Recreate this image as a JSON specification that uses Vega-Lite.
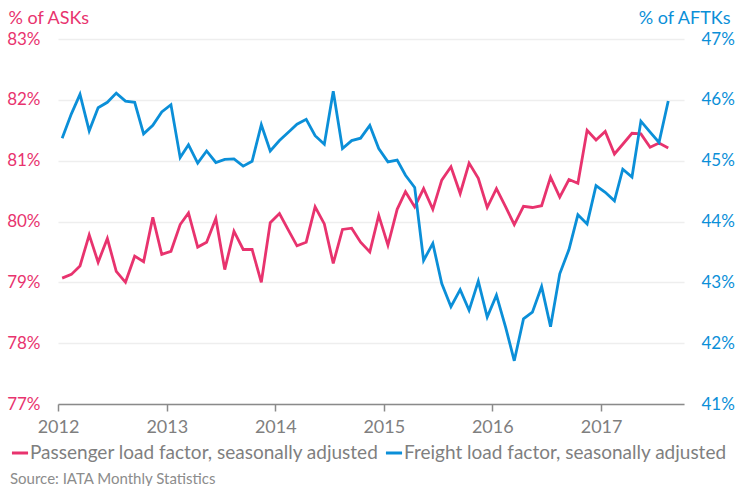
{
  "$schema": "https://vega.github.io/schema/vega-lite/v6.json",
  "width": 626,
  "height": 365,
  "autosize": "none",
  "padding": {"left": 58, "top": 39, "right": 54, "bottom": 82},
  "background": "white",
  "config": {
    "view": {"stroke": null},
    "font": "Lato",
    "axis": {"labelFont": "Lato", "titleFont": "Lato"},
    "legend": {"labelFont": "Lato"}
  },
  "title": {
    "text": "Source: IATA Monthly Statistics",
    "orient": "bottom",
    "anchor": "start",
    "frame": "group",
    "font": "Lato",
    "fontSize": 15,
    "fontWeight": "normal",
    "color": "#8c8c8c",
    "dx": -48,
    "offset": 9
  },
  "data": {
    "values": [
      {"month": "2012-01-15", "passenger": 79.07, "freight": 45.37},
      {"month": "2012-02-15", "passenger": 79.13, "freight": 45.77},
      {"month": "2012-03-15", "passenger": 79.27, "freight": 46.09},
      {"month": "2012-04-15", "passenger": 79.78, "freight": 45.49},
      {"month": "2012-05-15", "passenger": 79.33, "freight": 45.87},
      {"month": "2012-06-15", "passenger": 79.72, "freight": 45.96},
      {"month": "2012-07-15", "passenger": 79.18, "freight": 46.11},
      {"month": "2012-08-15", "passenger": 79.00, "freight": 45.98},
      {"month": "2012-09-15", "passenger": 79.43, "freight": 45.96},
      {"month": "2012-10-15", "passenger": 79.34, "freight": 45.44},
      {"month": "2012-11-15", "passenger": 80.07, "freight": 45.58},
      {"month": "2012-12-15", "passenger": 79.46, "freight": 45.80},
      {"month": "2013-01-15", "passenger": 79.51, "freight": 45.92},
      {"month": "2013-02-15", "passenger": 79.95, "freight": 45.05},
      {"month": "2013-03-15", "passenger": 80.14, "freight": 45.26},
      {"month": "2013-04-15", "passenger": 79.58, "freight": 44.96},
      {"month": "2013-05-15", "passenger": 79.66, "freight": 45.16},
      {"month": "2013-06-15", "passenger": 80.05, "freight": 44.97},
      {"month": "2013-07-15", "passenger": 79.21, "freight": 45.02},
      {"month": "2013-08-15", "passenger": 79.84, "freight": 45.03},
      {"month": "2013-09-15", "passenger": 79.54, "freight": 44.91},
      {"month": "2013-10-15", "passenger": 79.54, "freight": 44.99},
      {"month": "2013-11-15", "passenger": 79.00, "freight": 45.59},
      {"month": "2013-12-15", "passenger": 79.98, "freight": 45.16},
      {"month": "2014-01-15", "passenger": 80.13, "freight": 45.33},
      {"month": "2014-02-15", "passenger": 79.85, "freight": 45.47},
      {"month": "2014-03-15", "passenger": 79.60, "freight": 45.60},
      {"month": "2014-04-15", "passenger": 79.66, "freight": 45.68},
      {"month": "2014-05-15", "passenger": 80.24, "freight": 45.41},
      {"month": "2014-06-15", "passenger": 79.96, "freight": 45.27},
      {"month": "2014-07-15", "passenger": 79.31, "freight": 46.14},
      {"month": "2014-08-15", "passenger": 79.87, "freight": 45.20},
      {"month": "2014-09-15", "passenger": 79.89, "freight": 45.33},
      {"month": "2014-10-15", "passenger": 79.66, "freight": 45.37},
      {"month": "2014-11-15", "passenger": 79.50, "freight": 45.58},
      {"month": "2014-12-15", "passenger": 80.10, "freight": 45.20},
      {"month": "2015-01-15", "passenger": 79.61, "freight": 44.98},
      {"month": "2015-02-15", "passenger": 80.20, "freight": 45.01},
      {"month": "2015-03-15", "passenger": 80.49, "freight": 44.76},
      {"month": "2015-04-15", "passenger": 80.24, "freight": 44.56},
      {"month": "2015-05-15", "passenger": 80.54, "freight": 43.36},
      {"month": "2015-06-15", "passenger": 80.20, "freight": 43.64},
      {"month": "2015-07-15", "passenger": 80.68, "freight": 42.98},
      {"month": "2015-08-15", "passenger": 80.90, "freight": 42.60},
      {"month": "2015-09-15", "passenger": 80.46, "freight": 42.88},
      {"month": "2015-10-15", "passenger": 80.96, "freight": 42.54},
      {"month": "2015-11-15", "passenger": 80.71, "freight": 43.02},
      {"month": "2015-12-15", "passenger": 80.23, "freight": 42.43},
      {"month": "2016-01-15", "passenger": 80.54, "freight": 42.79},
      {"month": "2016-02-15", "passenger": 80.24, "freight": 42.26},
      {"month": "2016-03-15", "passenger": 79.95, "freight": 41.71},
      {"month": "2016-04-15", "passenger": 80.25, "freight": 42.40},
      {"month": "2016-05-15", "passenger": 80.23, "freight": 42.51},
      {"month": "2016-06-15", "passenger": 80.26, "freight": 42.93},
      {"month": "2016-07-15", "passenger": 80.73, "freight": 42.27},
      {"month": "2016-08-15", "passenger": 80.40, "freight": 43.14},
      {"month": "2016-09-15", "passenger": 80.69, "freight": 43.54},
      {"month": "2016-10-15", "passenger": 80.63, "freight": 44.11},
      {"month": "2016-11-15", "passenger": 81.50, "freight": 43.96},
      {"month": "2016-12-15", "passenger": 81.34, "freight": 44.59},
      {"month": "2017-01-15", "passenger": 81.48, "freight": 44.48},
      {"month": "2017-02-15", "passenger": 81.11, "freight": 44.34},
      {"month": "2017-03-15", "passenger": 81.27, "freight": 44.86},
      {"month": "2017-04-15", "passenger": 81.45, "freight": 44.73},
      {"month": "2017-05-15", "passenger": 81.44, "freight": 45.65},
      {"month": "2017-06-15", "passenger": 81.22, "freight": 45.47},
      {"month": "2017-07-15", "passenger": 81.29, "freight": 45.30},
      {"month": "2017-08-15", "passenger": 81.21, "freight": 45.98}
    ]
  },
  "encoding": {
    "x": {
      "field": "month",
      "type": "temporal",
      "scale": {"domain": ["2012-01-01", "2017-10-07"]},
      "axis": {
        "title": null,
        "format": "%Y",
        "tickCount": {"interval": "year", "step": 1},
        "grid": false,
        "domainColor": "#8a8a8a",
        "domainWidth": 1.5,
        "tickColor": "#8a8a8a",
        "tickWidth": 1.5,
        "tickSize": 7,
        "labelFontSize": 18,
        "labelColor": "#7f7f7f",
        "labelPadding": 7,
        "labelFlush": false,
        "labelOverlap": false
      }
    }
  },
  "layer": [
    {
      "mark": {"type": "line", "strokeWidth": 2.8, "strokeJoin": "miter", "interpolate": "linear"},
      "encoding": {
        "y": {
          "field": "passenger",
          "type": "quantitative",
          "scale": {"domain": [77, 83], "zero": false, "nice": false},
          "axis": {
            "orient": "left",
            "values": [77, 78, 79, 80, 81, 82, 83],
            "format": ".0f",
            "labelExpr": "datum.label + '%'",
            "title": "% of ASKs",
            "titleAngle": 0,
            "titleAlign": "left",
            "titleBaseline": "middle",
            "titleX": -50,
            "titleY": -21,
            "titleFontSize": 18,
            "titleFontWeight": "normal",
            "titleColor": "#e8336e",
            "labelColor": "#e8336e",
            "labelFontSize": 17,
            "labelPadding": 18,
            "domain": false,
            "ticks": false,
            "grid": true,
            "gridColor": "#eeeeee",
            "gridWidth": 1.5
          }
        },
        "color": {
          "datum": "Passenger load factor, seasonally adjusted",
          "type": "nominal",
          "scale": {
            "domain": ["Passenger load factor, seasonally adjusted", "Freight load factor, seasonally adjusted"],
            "range": ["#e8336e", "#0b8fd8"]
          },
          "legend": {
            "orient": "none",
            "direction": "horizontal",
            "legendX": -48,
            "legendY": 404,
            "title": null,
            "symbolType": "stroke",
            "symbolStrokeWidth": 3,
            "symbolSize": 260,
            "labelFontSize": 19,
            "labelColor": "#7f7f7f",
            "labelOffset": 0,
            "labelLimit": 500,
            "columnPadding": 0
          }
        }
      }
    },
    {
      "mark": {"type": "line", "strokeWidth": 2.8, "strokeJoin": "miter", "interpolate": "linear"},
      "encoding": {
        "y": {
          "field": "freight",
          "type": "quantitative",
          "scale": {"domain": [41, 47], "zero": false, "nice": false},
          "axis": {
            "orient": "right",
            "values": [41, 42, 43, 44, 45, 46, 47],
            "format": ".0f",
            "labelExpr": "datum.label + '%'",
            "title": "% of AFTKs",
            "titleAngle": 0,
            "titleAlign": "right",
            "titleBaseline": "middle",
            "titleX": 46,
            "titleY": -21,
            "titleFontSize": 18,
            "titleFontWeight": "normal",
            "titleColor": "#0b8fd8",
            "labelColor": "#0b8fd8",
            "labelFontSize": 17,
            "labelPadding": 17,
            "domain": false,
            "ticks": false,
            "grid": false
          }
        },
        "color": {"datum": "Freight load factor, seasonally adjusted", "type": "nominal"}
      }
    }
  ],
  "resolve": {"scale": {"y": "independent"}, "axis": {"y": "independent"}}
}
